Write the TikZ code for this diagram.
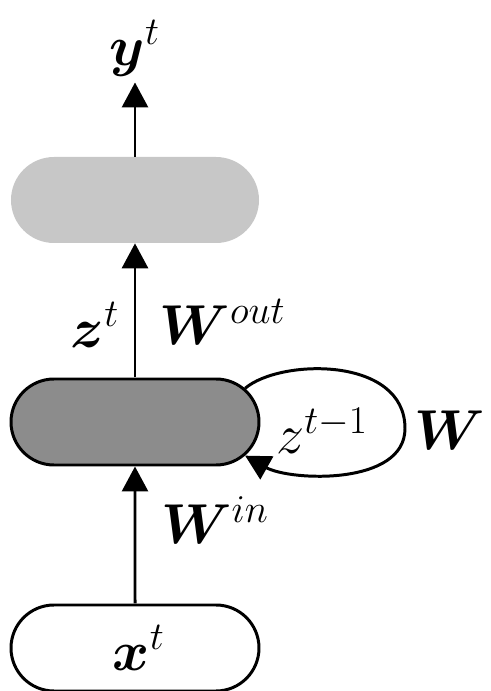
\RequirePackage{fix-cm}
\documentclass[tikz,border=0pt]{standalone}
\usepackage{bm}
\usetikzlibrary{shapes.misc,arrows.meta}

\begin{document}
\begin{tikzpicture}[x=1cm,y=1cm,
  cell/.style={rounded rectangle,minimum width=4.96cm,minimum height=1.72cm,inner sep=0pt},
  flow/.style={line width=1.7pt,-{Triangle[width=0.52cm,length=0.5cm]}},
  lbl/.style={font=\fontsize{32}{36}\selectfont}]
\useasboundingbox (0,0) rectangle (9.8,13.82);

\node[cell,fill=black!22] (out) at (2.7,9.82) {};
\node[cell,fill=black!45,draw,line width=1.7pt] (hid) at (2.7,5.38) {};
\node[cell,draw,line width=1.7pt,lbl] (inp) at (2.7,0.86) {\hspace{0.15cm}$\bm{x}^t$};

\node[lbl] (y) at (2.7,12.85) {$\bm{y}^t$};
\coordinate (loopR) at (8.1,5.25);

\draw[flow] (inp) -- (hid);
\draw[flow] (hid) -- (out);
\draw[flow] (out) -- (y);
\draw[flow] (hid.17) .. controls (5.6,6.65) and (8.1,6.7) .. (loopR)
  .. controls (8.1,4.1) and (5.8,4.2) .. (hid.-17);

\node[lbl] (zt) at (1.9,7.32) {$\bm{z}^t$};
\node[lbl] (wout) at (4.45,7.38) {$\bm{W}^{out}$};
\node[lbl] (win) at (4.3,3.42) {$\bm{W}^{in}$};
\node[lbl] (zprev) at (6.44,5.2) {$z^{t-1}$};
\node[lbl] (w) at (9.0,5.22) {$\bm{W}$};
\end{tikzpicture}
\end{document}
